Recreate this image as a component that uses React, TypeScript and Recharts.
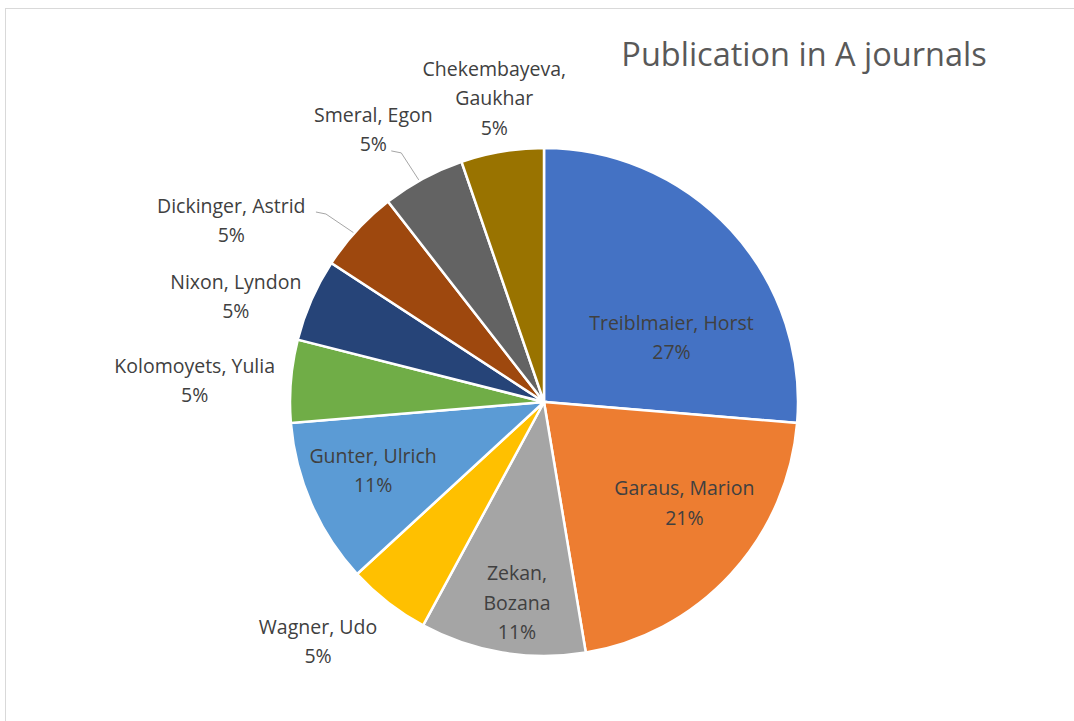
import React from "react";
import { PieChart, Pie, Cell } from "recharts";

const NAMES = [
  "Treiblmaier, Horst",
  "Garaus, Marion",
  "Zekan, Bozana",
  "Wagner, Udo",
  "Gunter, Ulrich",
  "Kolomoyets, Yulia",
  "Nixon, Lyndon",
  "Dickinger, Astrid",
  "Smeral, Egon",
  "Chekembayeva, Gaukhar",
];
// publication counts (slice sizes)
const COUNTS = [5, 4, 2, 1, 2, 1, 1, 1, 1, 1];
// percentages as printed on the data labels
const PCT_LABELS = ["27%", "21%", "11%", "5%", "11%", "5%", "5%", "5%", "5%", "5%"];
const COLORS = [
  "#4472C4",
  "#ED7D31",
  "#A5A5A5",
  "#FFC000",
  "#5B9BD5",
  "#70AD47",
  "#264478",
  "#9E480E",
  "#636363",
  "#997300",
];
const TITLE = "Publication in A journals";

// label placement relative to each slice (angle shift in degrees, radius factor)
const LABEL_LAYOUT = [
  { dAngle: -15.7, rf: 0.563 },
  { dAngle: 7.0, rf: 0.68 },
  { dAngle: 1.8, rf: 0.795, wrap: true },
  { dAngle: -5.5, rf: 1.295 },
  { dAngle: -2.0, rf: 0.724 },
  { dAngle: 1.1, rf: 1.378 },
  { dAngle: 4.7, rf: 1.283 },
  { dAngle: 12.4, rf: 1.425, leaderLine: 0 },
  { dAngle: 3.6, rf: 1.267, leaderLine: 1 },
  { dAngle: -0.2, rf: 1.213, wrap: true },
];

const data = NAMES.map((name, i) => ({ name, value: COUNTS[i], pct: PCT_LABELS[i] }));

const FONT = "'Open Sans', 'Noto Sans', sans-serif";
const LABEL_SIZE = 19.5;
const LINE_H = 29.5;
const RAD = Math.PI / 180;

const renderLabel = (props: any) => {
  const { cx, cy, midAngle, outerRadius, index, name } = props;
  const lay = LABEL_LAYOUT[index];
  const ang = midAngle + lay.dAngle;
  const r = outerRadius * lay.rf;
  const x = cx + r * Math.cos(ang * RAD);
  const y = cy - r * Math.sin(ang * RAD);
  const nameLines = lay.wrap
    ? (() => {
        const k = name.indexOf(", ");
        return [name.slice(0, k + 1), name.slice(k + 2)];
      })()
    : [name];
  const lines = [...nameLines, PCT_LABELS[index]];
  const top = y - ((lines.length - 1) * LINE_H) / 2;
  let leader = null;
  if (lay.leaderLine !== undefined) {
    const li = lay.leaderLine;
    const w = lines[li].length * 8.9;
    const ly = top + li * LINE_H;
    const ex = x + w / 2 + 9;
    const ey = ly + 7;
    const kx = ex + 10;
    const ky = ey + 2;
    const sa = midAngle + 1;
    const sx = cx + (outerRadius + 1) * Math.cos(sa * RAD);
    const sy = cy - (outerRadius + 1) * Math.sin(sa * RAD);
    leader = (
      <polyline
        points={`${ex},${ey} ${kx},${ky} ${sx},${sy}`}
        fill="none"
        stroke="#a6a6a6"
        strokeWidth={1}
      />
    );
  }
  return (
    <g key={`lbl-${index}`}>
      {leader}
      <text
        x={x}
        y={top}
        textAnchor="middle"
        fill="#404040"
        fontFamily={FONT}
        fontSize={LABEL_SIZE}
      >
        {lines.map((t, i) => (
          <tspan key={i} x={x} y={top + i * LINE_H} dominantBaseline="central">
            {t}
          </tspan>
        ))}
      </text>
    </g>
  );
};

export default function App() {
  return (
    <div
      style={{
        position: "fixed",
        left: 0,
        top: 0,
        width: 1074,
        height: 721,
        overflow: "hidden",
        background: "#fff",
      }}
    >
      <div
        style={{
          position: "absolute",
          left: 5,
          top: 8,
          width: 1200,
          height: 900,
          border: "1.5px solid #d9d9d9",
          boxSizing: "border-box",
        }}
      />
      <div
        style={{
          position: "absolute",
          left: 554,
          width: 500,
          top: 31,
          textAlign: "center",
          fontFamily: FONT,
          fontSize: 32.5,
          color: "#595959",
          lineHeight: "46px",
          whiteSpace: "nowrap",
        }}
      >
        {TITLE}
      </div>
      <div style={{ position: "absolute", left: 0, top: 0 }}>
        <PieChart
          width={1074}
          height={721}
          margin={{ top: 0, right: 0, bottom: 0, left: 0 }}
        >
          <Pie
            data={data}
            dataKey="value"
            nameKey="name"
            cx={544}
            cy={402}
            outerRadius={254}
            startAngle={90}
            endAngle={-270}
            stroke="#ffffff"
            strokeWidth={2.5}
            label={renderLabel}
            labelLine={false}
            isAnimationActive={false}
          >
            {data.map((d, i) => (
              <Cell key={d.name} fill={COLORS[i]} />
            ))}
          </Pie>
        </PieChart>
      </div>
    </div>
  );
}
